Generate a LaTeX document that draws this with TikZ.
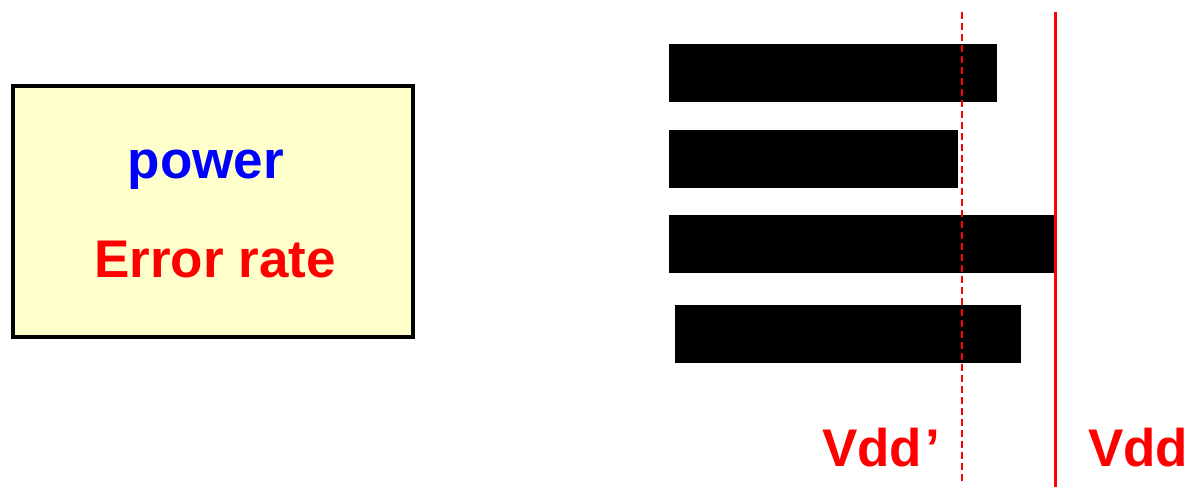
\documentclass[tikz,border=0pt]{standalone}
\usepackage{fontspec}
\setmainfont{Liberation Sans}
\usetikzlibrary{positioning}
\definecolor{boxfill}{HTML}{FFFFCC}
\tikzset{
  bar/.style={fill=black, inner sep=0pt, outer sep=0pt, minimum height=58pt, anchor=north west},
  big/.style={font=\fontsize{53}{60}\selectfont\bfseries, inner sep=0pt, anchor=base},
}

\begin{document}
\begin{tikzpicture}[x=1pt, y=-1pt]
   \useasboundingbox (0,0) rectangle (1190,487);
   % left box
   \node[draw=black, line width=4pt, fill=boxfill, minimum width=400pt, minimum height=251pt, inner sep=0pt] (box) at (213,211.5) {};
   \node[big, text=blue] (power) at (206,178) {power};
   \node[big, text=red] (err) at (215,277) {Error rate};
   % bars
   \node[bar, minimum width=328pt] (bar1) at (669,44) {};
   \node[bar, minimum width=289pt] (bar2) at (669,130) {};
   \node[bar, minimum width=386pt] (bar3) at (669,215) {};
   \node[bar, minimum width=346pt] (bar4) at (675,305) {};
   % supply lines
   \coordinate (lowtop) at (962,12);
   \coordinate (lowbot) at (962,483);
   \coordinate (hightop) at (1055,12);
   \coordinate (highbot) at (1055,487);
   \draw[red, line width=1.8pt, dash pattern=on 7pt off 4pt] (lowtop) -- (lowbot);
   \draw[red, line width=3pt] (hightop) -- (highbot);
   \node[big, text=red, anchor=base west] (vddlow) at (822,466) {Vdd\kern3pt’};
   \node[big, text=red, anchor=base west] (vdd) at (1088,466) {Vdd};
\end{tikzpicture}
\end{document}
